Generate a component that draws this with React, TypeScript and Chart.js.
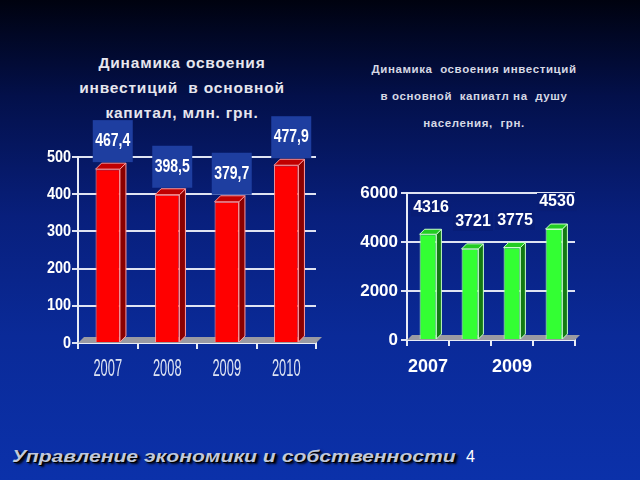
import React, { useEffect, useRef } from "react";
import { Chart, registerables } from "chart.js";

Chart.register(...registerables);

// ---- data ----
const years = ["2007", "2008", "2009", "2010"];
const investTotal = [467.4, 398.5, 379.7, 477.9];
const investTotalLabels = ["467,4", "398,5", "379,7", "477,9"];
const investPerCapita = [4316, 3721, 3775, 4530];
const investPerCapitaLabels = ["4316", "3721", "3775", "4530"];
const leftTitle = ["Динамика освоения", "инвестиций  в основной", "капитал, млн. грн."];
const rightTitle = ["Динамика  освоения инвестиций", "в основной  капиатл на  душу", "населения,  грн."];
const footerText = "Управление экономики и собственности";
const pageNumber = "4";

const SANS = "'Liberation Sans', Arial, 'DejaVu Sans', sans-serif";

function poly(ctx: CanvasRenderingContext2D, pts: number[][], fill: string, stroke?: string) {
  ctx.beginPath();
  ctx.moveTo(pts[0][0], pts[0][1]);
  for (let i = 1; i < pts.length; i++) ctx.lineTo(pts[i][0], pts[i][1]);
  ctx.closePath();
  ctx.fillStyle = fill;
  ctx.fill();
  if (stroke) {
    ctx.strokeStyle = stroke;
    ctx.lineWidth = 1;
    ctx.stroke();
  }
}

// draws horizontally condensed text (emulates a narrow typeface)
function narrowText(ctx: CanvasRenderingContext2D, text: string, x: number, y: number, font: string, sx: number, align: CanvasTextAlign, color: string) {
  ctx.save();
  ctx.translate(x, y);
  ctx.scale(sx, 1);
  ctx.font = font;
  ctx.fillStyle = color;
  ctx.textAlign = align;
  ctx.textBaseline = "middle";
  ctx.fillText(text, 0, 0);
  ctx.restore();
}

function makeBars3d(dx: number, dy: number, floor: string, top: string, side: string, edge: string) {
  return {
    id: "bars3d",
    beforeDatasetsDraw(chart: any) {
      const { ctx, chartArea } = chart;
      const { left, right, bottom } = chartArea;
      ctx.save();
      poly(ctx, [[left, bottom], [right, bottom], [right + dx, bottom - dy], [left + dx, bottom - dy]], floor);
      ctx.restore();
    },
    afterDatasetsDraw(chart: any) {
      const { ctx } = chart;
      const meta = chart.getDatasetMeta(0);
      ctx.save();
      meta.data.forEach((bar: any) => {
        const { x, y, base, width } = bar.getProps(["x", "y", "base", "width"], true);
        const l = x - width / 2;
        const r = x + width / 2;
        poly(ctx, [[r, y], [r + dx, y - dy], [r + dx, base - dy], [r, base]], side, edge);
        poly(ctx, [[l, y], [l + dx, y - dy], [r + dx, y - dy], [r, y]], top, edge);
      });
      ctx.restore();
    },
  };
}

function makeLabels(texts: string[], font: string, sx: number, ox: number, oy: number, box: { w: number; h: number; color: string } | null) {
  return {
    id: "valueLabels",
    afterDatasetsDraw(chart: any) {
      const { ctx } = chart;
      const meta = chart.getDatasetMeta(0);
      meta.data.forEach((bar: any, i: number) => {
        const { x, y } = bar.getProps(["x", "y"], true);
        const cx = x + ox;
        const cy = y + oy;
        if (box) {
          ctx.save();
          ctx.fillStyle = box.color;
          ctx.fillRect(cx - box.w / 2, cy - box.h / 2, box.w, box.h);
          ctx.restore();
        }
        narrowText(ctx, texts[i], cx, cy, font, sx, "center", "#ffffff");
      });
    },
  };
}

// narrow tick labels for the left chart, placed through the chart's own scales
const narrowTicks = {
  id: "narrowTicks",
  afterDraw(chart: any) {
    const { ctx } = chart;
    const ys = chart.scales.y;
    ys.ticks.forEach((t: any) => {
      const py = ys.getPixelForValue(t.value);
      narrowText(ctx, String(t.value), ys.right - 7, py, `bold 17px ${SANS}`, 0.85, "right", "#ffffff");
    });
    const xs = chart.scales.x;
    xs.ticks.forEach((t: any, i: number) => {
      const px = xs.getPixelForTick(i);
      narrowText(ctx, years[i], px, xs.top + 27, `23px ${SANS}`, 0.56, "center", "#dde3f2");
    });
  },
};

function LeftChart() {
  const ref = useRef<HTMLCanvasElement>(null);
  useEffect(() => {
    const chart = new Chart(ref.current!, {
      type: "bar",
      data: {
        labels: years,
        datasets: [
          {
            data: investTotal,
            backgroundColor: "#ff0000",
            borderColor: "#ff9a9a",
            borderWidth: 1,
            categoryPercentage: 1,
            barPercentage: 0.41,
          },
        ],
      },
      options: {
        animation: false,
        responsive: false,
        events: [],
        layout: { padding: { top: 57, right: 14, left: 0, bottom: 0 } },
        plugins: { legend: { display: false }, tooltip: { enabled: false } },
        scales: {
          x: {
            afterFit: (s: any) => { s.height = 47; },
            grid: { display: true, drawOnChartArea: false, drawTicks: true, tickLength: 6, color: "#e8ecf6", lineWidth: 2 },
            border: { display: true, color: "#e8ecf6", width: 2 },
            ticks: { display: false },
          },
          y: {
            min: 0,
            max: 500,
            afterFit: (s: any) => { s.width = 48; },
            grid: { color: "#dfe3f2", lineWidth: 2, tickLength: 6 },
            border: { display: true, color: "#e8ecf6", width: 2 },
            ticks: { display: false, stepSize: 100 },
          },
        },
      },
      plugins: [
        makeBars3d(6, 6, "#9a9aa2", "#c00000", "#8a0000", "#ff9a9a"),
        makeLabels(investTotalLabels, `bold 18px ${SANS}`, 0.78, 5, -28, { w: 40, h: 42, color: "#1e3ea0" }),
        narrowTicks,
      ],
    } as any);
    return () => chart.destroy();
  }, []);
  return (
    <canvas
      ref={ref}
      width={300}
      height={290}
      style={{ position: "absolute", left: 30, top: 100, width: 300, height: 290 }}
    />
  );
}

function RightChart() {
  const ref = useRef<HTMLCanvasElement>(null);
  useEffect(() => {
    const chart = new Chart(ref.current!, {
      type: "bar",
      data: {
        labels: years,
        datasets: [
          {
            data: investPerCapita,
            backgroundColor: "#33ff33",
            borderColor: "#c8ffc8",
            borderWidth: 1,
            categoryPercentage: 1,
            barPercentage: 0.4,
          },
        ],
      },
      options: {
        animation: false,
        responsive: false,
        events: [],
        layout: { padding: { top: 23, right: 25, left: 0, bottom: 0 } },
        plugins: { legend: { display: false }, tooltip: { enabled: false } },
        scales: {
          x: {
            afterFit: (s: any) => { s.height = 50; },
            grid: { display: true, drawOnChartArea: false, drawTicks: true, tickLength: 6, color: "#e8ecf6", lineWidth: 2 },
            border: { display: true, color: "#e8ecf6", width: 2 },
            ticks: {
              color: "#ffffff",
              padding: 10,
              autoSkip: false,
              maxRotation: 0,
              font: { family: SANS, size: 18, weight: "bold" },
              callback: (_v: any, i: number) => (i % 2 === 0 ? years[i] : ""),
            },
          },
          y: {
            min: 0,
            max: 6000,
            afterFit: (s: any) => { s.width = 57; },
            grid: { color: "#dfe3f2", lineWidth: 2, tickLength: 6 },
            border: { display: true, color: "#e8ecf6", width: 2 },
            ticks: {
              stepSize: 2000,
              color: "#ffffff",
              padding: 3,
              font: { family: SANS, size: 17, weight: "bold" },
              callback: (v: any) => String(v),
            },
          },
        },
      },
      plugins: [
        makeBars3d(5, 5, "#9a9aa2", "#22cc22", "#127a12", "#c8ffc8"),
        makeLabels(investPerCapitaLabels, `bold 16px ${SANS}`, 1, 3, -27, { w: 40, h: 18, color: "#081d76" }),
      ],
    } as any);
    return () => chart.destroy();
  }, []);
  return (
    <canvas
      ref={ref}
      width={250}
      height={220}
      style={{ position: "absolute", left: 350, top: 170, width: 250, height: 220 }}
    />
  );
}

export default function App() {
  return (
    <div
      style={{
        position: "absolute",
        left: 0,
        top: 0,
        width: 640,
        height: 480,
        overflow: "hidden",
        background: "linear-gradient(180deg, #00020f 0%, #03104a 20%, #081f7c 45%, #0a2a98 70%, #0b31aa 100%)",
        fontFamily: SANS,
      }}
    >
      <div
        style={{
          position: "absolute",
          left: 32,
          top: 50,
          width: 300,
          textAlign: "center",
          color: "#e6e6ee",
          fontWeight: "bold",
          fontSize: 15.5,
          lineHeight: "25px",
          letterSpacing: 0.8,
          whiteSpace: "pre",
        }}
      >
        {leftTitle.map((t, i) => (
          <div key={i}>{t}</div>
        ))}
      </div>
      <div
        style={{
          position: "absolute",
          left: 324,
          top: 56,
          width: 300,
          textAlign: "center",
          color: "#d6d8e4",
          fontWeight: "bold",
          fontSize: 11.5,
          lineHeight: "27px",
          letterSpacing: 0.6,
          whiteSpace: "pre",
        }}
      >
        {rightTitle.map((t, i) => (
          <div key={i}>{t}</div>
        ))}
      </div>
      <LeftChart />
      <RightChart />
      <div
        style={{
          position: "absolute",
          left: 12,
          top: 447,
          fontStyle: "italic",
          fontWeight: "bold",
          fontSize: 16,
          color: "#c0c8dc",
          textShadow: "1px 1px 0 #000, 2px 2px 2px #000",
          transform: "scaleX(1.32)",
          transformOrigin: "left center",
          whiteSpace: "pre",
          lineHeight: "20px",
        }}
      >
        {footerText}
      </div>
      <div style={{ position: "absolute", left: 466, top: 447, fontSize: 16, color: "#ffffff", lineHeight: "20px" }}>
        {pageNumber}
      </div>
    </div>
  );
}
